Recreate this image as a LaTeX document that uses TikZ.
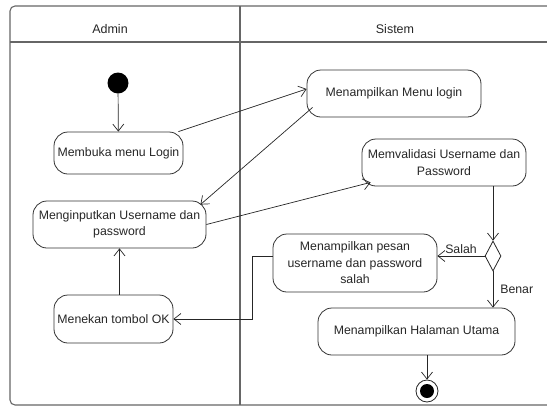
\documentclass[tikz,border=0pt]{standalone}
\usepackage{fontspec}
\setmainfont{Liberation Sans}
\usetikzlibrary{arrows.meta,calc,shapes.geometric}

\newlength{\du}
\setlength{\du}{10pt}

\tikzset{
  lajur/.style={draw=black!60, line width=1.1pt},
  judul/.style={text=black!85, font=\fontsize{12.5}{15}\selectfont},
  aksi/.style={draw=black!80, line width=0.8pt, rounded corners=14pt, align=center,
    text=black!85, font=\fontsize{12.3}{16.5}\selectfont, inner sep=1pt},
  alir/.style={draw=black!85, line width=0.7pt, -{Straight Barb[length=7pt,width=11pt]}},
  ket/.style={text=black!85, font=\fontsize{12.3}{14}\selectfont, inner sep=2pt},
}

\begin{document}
\begin{tikzpicture}
\pgftransformyscale{-1.000000}
\useasboundingbox (0\du,0\du) rectangle (54.7\du,40.8\du);
\clip (0\du,0\du) rectangle (54.7\du,40.8\du);
% swimlane frame
\draw[lajur, rounded corners=5pt] (1.0\du,0.6\du) rectangle (57.0\du,40.5\du);
\draw[lajur] (1.0\du,4.2\du) -- (57.0\du,4.2\du);
\draw[lajur] (24.0\du,0.6\du) -- (24.0\du,40.5\du);
\node[judul] (admin) at (11.0\du,2.9\du) {Admin};
\node[judul] (sistem) at (39.5\du,2.9\du) {Sistem};
% start and end
\node[circle, fill=black, minimum size=2.1\du, inner sep=0pt] (mulai) at (11.8\du,8.3\du) {};
\node[circle, draw=black!85, line width=0.8pt, minimum size=2.2\du, inner sep=0pt] (selesai) at (42.7\du,39.1\du) {};
\node[circle, fill=black, minimum size=1.4\du, inner sep=0pt] (selesaiisi) at (selesai) {};
% activities
\node[aksi, minimum width=12.9\du, minimum height=4.2\du] (buka) at (11.85\du,15.3\du) {Membuka menu Login};
\node[aksi, minimum width=17.4\du, minimum height=4.7\du] (menu) at (39.4\du,9.35\du) {Menampilkan Menu login};
\node[aksi, minimum width=16.4\du, minimum height=4.7\du] (validasi) at (44.4\du,16.25\du) {Memvalidasi Username dan\\Password};
\node[aksi, minimum width=17.3\du, minimum height=4.7\du] (input) at (11.95\du,22.45\du) {Menginputkan Username dan\\password};
\node[draw=black!85, line width=0.8pt, diamond, aspect=0.5, minimum width=1.6\du, minimum height=3.0\du, inner sep=0pt] (cek) at (49.3\du,25.6\du) {};
\node[aksi, minimum width=16.4\du, minimum height=5.8\du] (pesan) at (35.5\du,26.3\du) {Menampilkan pesan\\username dan password\\salah};
\node[aksi, minimum width=11.9\du, minimum height=4.8\du] (tombol) at (11.35\du,31.9\du) {Menekan tombol OK};
\node[aksi, minimum width=19.7\du, minimum height=4.7\du] (utama) at (41.65\du,33.15\du) {Menampilkan Halaman Utama};
% flows
\coordinate (belok) at (25.2\du,0\du);
\draw[alir] (mulai) -- (buka);
\draw[alir] ($(buka.north east)+(-0.5\du,0)$) -- ($(menu.west)+(0,-0.45\du)$);
\draw[alir] ($(menu.south west)+(0.6\du,-1.0\du)$) -- ($(input.north east)+(-0.6\du,0.4\du)$);
\draw[alir] (input.east) -- ($(validasi.south west)+(0.9\du,-0.4\du)$);
\draw[alir] (cek.north |- validasi.south) -- (cek.north);
\draw[alir] (cek.west) -- (cek.west -| pesan.east) node[ket, midway, above] {Salah};
\draw[alir] (cek.south) -- (cek.south |- utama.north) node[ket, pos=0.5, right=5pt] {Benar};
\draw[alir] (pesan.west |- cek.west) -- (belok |- cek.west) |- (tombol.east);
\draw[alir] (input.south |- tombol.north) -- (input.south);
\draw[alir] (selesai.north |- utama.south) -- (selesai.north);
\end{tikzpicture}
\end{document}
